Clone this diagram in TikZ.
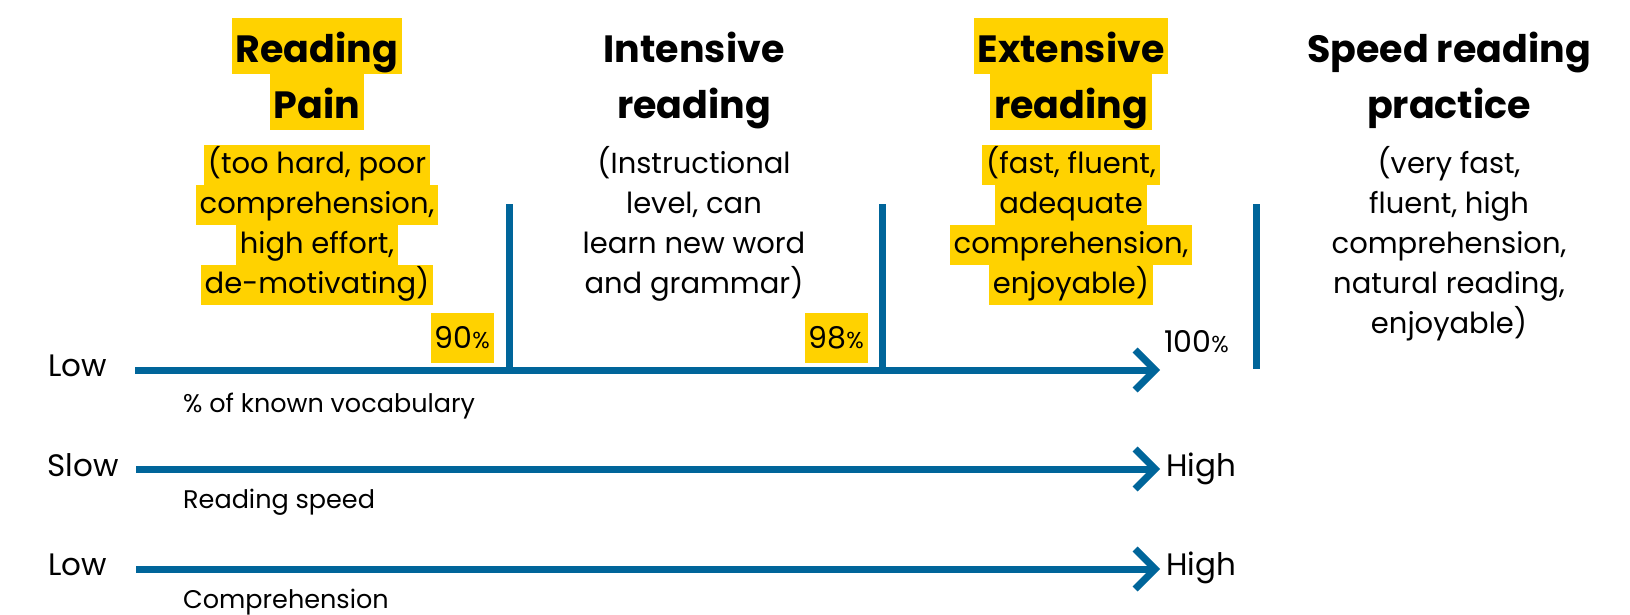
\documentclass[tikz,border=0pt]{standalone}
\usepackage{fontspec}
\setmainfont{Poppins}
\usepackage{xcolor}
\definecolor{hl}{RGB}{255,210,0}
\definecolor{ax}{RGB}{0,101,154}
\usetikzlibrary{arrows.meta, positioning}

% struts and highlighted lines
\newcommand{\hstrut}{\rule[-12pt]{0pt}{56pt}}
\newcommand{\sstrut}{\rule[-11pt]{0pt}{40pt}}
\newcommand{\hlhead}[1]{\colorbox{hl}{\hspace{4pt}\hstrut#1\hspace{4pt}}}
\newcommand{\hlsub}[1]{\colorbox{hl}{\hspace{4pt}\sstrut#1\hspace{4pt}}}
\newcommand{\pc}{{\fontsize{23}{23}\selectfont\%}}
\setlength{\fboxsep}{0pt}

\begin{document}
\begin{tikzpicture}[x=1pt, y=-1pt,
    heading/.style={font=\bfseries\fontsize{38}{56}\selectfont, align=center, inner sep=0pt},
    remark/.style={font=\fontsize{29}{40}\selectfont, align=center, inner sep=0pt},
    axlabel/.style={font=\fontsize{31}{36}\selectfont, inner sep=0pt},
    caption/.style={font=\fontsize{25.5}{30}\selectfont, inner sep=0pt, anchor=base west},
    pct/.style={font=\fontsize{30}{36}\selectfont, inner xsep=4pt, inner ysep=0pt, minimum height=50pt},
    axis/.style={line width=7pt, draw=ax, -{Straight Barb[length=20pt, width=40pt]}},
    tick/.style={line width=7pt, draw=ax}]
    \useasboundingbox (0,0) rectangle (1630,615);

    % Column headings
    \node[heading, anchor=north] (painhead) at (317,18) {\hlhead{Reading}\\\hlhead{Pain}};
    \node[remark, below=14pt of painhead] (painnote) {\hlsub{(too hard, poor}\\\hlsub{comprehension,}\\\hlsub{high effort,}\\\hlsub{de-motivating)}};

    \node[heading, anchor=north] (inthead) at (694,18) {\hstrut Intensive\\\hstrut reading};
    \node[remark, below=14pt of inthead] (intnote) {\sstrut(Instructional\\level, can\\learn new word\\and grammar)};

    \node[heading, anchor=north] (exthead) at (1071,18) {\hlhead{Extensive}\\\hlhead{reading}};
    \node[remark, below=14pt of exthead] (extnote) {\hlsub{(fast, fluent,}\\\hlsub{adequate}\\\hlsub{comprehension,}\\\hlsub{enjoyable)}};

    \node[heading, anchor=north] (spdhead) at (1449,18) {\hstrut Speed reading\\\hstrut practice};
    \node[remark, below=14pt of spdhead] (spdnote) {\sstrut(very fast,\\fluent, high\\comprehension,\\natural reading,\\enjoyable)};

    % Vocabulary axis
    \coordinate (voc0) at (135,370);
    \coordinate (voc1) at (1160,370);
    \coordinate (t90) at (509,370);
    \coordinate (t90top) at (509,204);
    \coordinate (t98) at (882,370);
    \coordinate (t98top) at (882,204);
    \coordinate (t100) at (1256,369);
    \coordinate (t100top) at (1256,204);
    \draw[axis] (voc0) -- (voc1);
    \draw[tick] (t90top) -- (t90);
    \draw[tick] (t98top) -- (t98);
    \draw[tick] (t100top) -- (t100);
    \node[pct, fill=hl, anchor=south east] (p90) at (494,363) {90\pc};
    \node[pct, fill=hl, anchor=south east] (p98) at (868,363) {98\pc};
    \node[pct, anchor=base west, minimum height=0pt, inner xsep=0pt] (p100) at (1164,352) {100\pc};
    \node[axlabel, anchor=base east] (voclow) at (107,376) {Low};
    \node[caption] (voccap) at (183,412) {\% of known vocabulary};

    % Speed axis
    \coordinate (spd0) at (136,469);
    \coordinate (spd1) at (1160,469);
    \draw[axis] (spd0) -- (spd1);
    \node[axlabel, anchor=base east] (spdlow) at (119,476) {Slow};
    \node[axlabel, anchor=base west] (spdhigh) at (1166,476) {High};
    \node[caption] (spdcap) at (183,508) {Reading speed};

    % Comprehension axis
    \coordinate (com0) at (136,569);
    \coordinate (com1) at (1160,569);
    \draw[axis] (com0) -- (com1);
    \node[axlabel, anchor=base east] (comlow) at (107,575) {Low};
    \node[axlabel, anchor=base west] (comhigh) at (1166,575) {High};
    \node[caption] (comcap) at (183,608) {Comprehension};
\end{tikzpicture}
\end{document}
